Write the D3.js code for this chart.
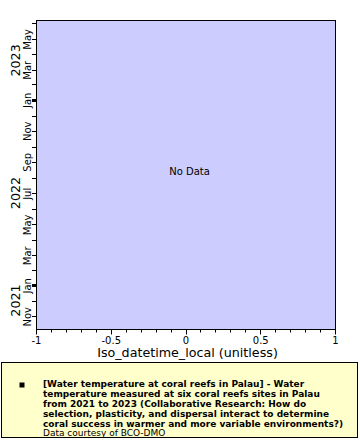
<!DOCTYPE html>
<html>
<head>
<meta charset="utf-8">
<script src="https://cdn.jsdelivr.net/npm/d3@7"></script>
<style>
  body { margin: 0; background: #fff; }
  svg { display: block; font-family: 'DejaVu Sans', sans-serif; }
</style>
</head>
<body>
<div id="chart"></div>
<script>
// chart values
const xDomain = [-1, 1];
const xMajorTicks = [-1, -0.5, 0, 0.5, 1];
const xLabel = 'Iso_datetime_local (unitless)';
const timeDomain = ['2021-10-07', '2023-06-07'];
const years = [2021, 2022, 2023];
const seriesValues = []; // no data in this dataset
const legendTitle = [
  '[Water temperature at coral reefs in Palau] - Water',
  'temperature measured at six coral reefs sites in Palau',
  'from 2021 to 2023 (Collaborative Research: How do',
  'selection, plasticity, and dispersal interact to determine',
  'coral success in warmer and more variable environments?)'
];
const legendCredit = 'Data courtesy of BCO-DMO';

const width = 360;
const height = 440;
const plot = { left: 36, right: 335, top: 20, bottom: 329 };

const svg = d3.select('#chart')
  .append('svg')
  .attr('width', width)
  .attr('height', height);

const parseDate = d3.timeParse('%Y-%m-%d');

const xScale = d3.scaleLinear().domain(xDomain).range([plot.left, plot.right]);
const yScale = d3.scaleTime()
  .domain(timeDomain.map(parseDate))
  .range([plot.bottom, plot.top]);

// plot background
svg.append('rect')
  .attr('x', plot.left + 0.5)
  .attr('y', plot.top + 0.5)
  .attr('width', plot.right - plot.left)
  .attr('height', plot.bottom - plot.top)
  .attr('fill', '#ccccff')
  .attr('stroke', '#000')
  .attr('stroke-width', 1);

// x axis: minor ticks every 0.1, major every 0.5
const xAxis = svg.append('g')
  .attr('transform', `translate(0.5, ${plot.bottom + 0.5})`);

xAxis.selectAll('line.minor')
  .data(d3.range(-10, 11).map((i) => i / 10))
  .join('line')
  .attr('class', 'minor')
  .attr('x1', (d) => Math.round(xScale(d)))
  .attr('x2', (d) => Math.round(xScale(d)))
  .attr('y1', 0)
  .attr('y2', (d) => (xMajorTicks.some((m) => Math.abs(m - d) < 1e-9) ? 5 : 3))
  .attr('stroke', '#000');

xAxis.selectAll('text')
  .data(xMajorTicks)
  .join('text')
  .attr('x', (d) => xScale(d))
  .attr('y', 14)
  .attr('text-anchor', 'middle')
  .attr('font-size', 10)
  .text((d) => String(d)); // plain hyphen, like the original

svg.append('text')
  .attr('x', (plot.left + plot.right) / 2 + 2)
  .attr('y', 357)
  .attr('text-anchor', 'middle')
  .attr('font-size', 12.7)
  .text(xLabel);

// y axis: time, monthly ticks, labels every 2 months
const yAxis = svg.append('g').attr('transform', `translate(${plot.left}, 0.5)`);
const months = yScale.ticks(d3.timeMonth.every(1));

yAxis.selectAll('line')
  .data(months)
  .join('line')
  .attr('x1', -4)
  .attr('x2', 0)
  .attr('y1', (d) => Math.round(yScale(d)))
  .attr('y2', (d) => Math.round(yScale(d)))
  .attr('stroke', '#000')
  .attr('stroke-width', (d) => (d.getMonth() === 0 ? 3 : 1));

yAxis.selectAll('text.month')
  .data(months.filter((d) => d.getMonth() % 2 === 0))
  .join('text')
  .attr('class', 'month')
  .attr('transform', (d) => `translate(-5, ${yScale(d)}) rotate(-90)`)
  .attr('text-anchor', 'middle')
  .attr('font-size', 10)
  .text(d3.timeFormat('%b'));

// year labels, centred on the visible part of each year
const [d0, d1] = yScale.domain();
yAxis.selectAll('text.year')
  .data(years)
  .join('text')
  .attr('class', 'year')
  .attr('transform', (yr) => {
    const a = d3.max([d0, new Date(yr, 0, 1)]);
    const b = d3.min([d1, new Date(yr + 1, 0, 1)]);
    let y = (yScale(a) + yScale(b)) / 2;
    y = Math.min(y, plot.bottom - 29);
    return `translate(-16, ${y}) rotate(-90)`;
  })
  .attr('text-anchor', 'middle')
  .attr('font-size', 12.7)
  .text((yr) => yr);

// data layer (empty)
svg.append('g')
  .selectAll('circle')
  .data(seriesValues)
  .join('circle')
  .attr('cx', (d) => xScale(d.x))
  .attr('cy', (d) => yScale(d.t))
  .attr('r', 2);

if (seriesValues.length === 0) {
  svg.append('text')
    .attr('x', 189.5)
    .attr('y', 175)
    .attr('text-anchor', 'middle')
    .attr('font-size', 10)
    .text('No Data');
}

// legend
const legend = svg.append('g');
legend.append('rect')
  .attr('x', 1.5)
  .attr('y', 362.5)
  .attr('width', 356)
  .attr('height', 75)
  .attr('fill', '#ffffcc')
  .attr('stroke', '#000');

legend.append('rect')
  .attr('x', 19.5)
  .attr('y', 382.5)
  .attr('width', 5)
  .attr('height', 5)
  .attr('fill', '#000');

legend.selectAll('text.title')
  .data(legendTitle)
  .join('text')
  .attr('class', 'title')
  .attr('x', 43)
  .attr('y', (d, i) => 387 + i * 10)
  .attr('font-size', 9)
  .attr('font-weight', 'bold')
  .text((d) => d);

legend.append('text')
  .attr('x', 43)
  .attr('y', 387 + legendTitle.length * 10 - 1)
  .attr('font-size', 9)
  .text(legendCredit);
</script>
</body>
</html>
